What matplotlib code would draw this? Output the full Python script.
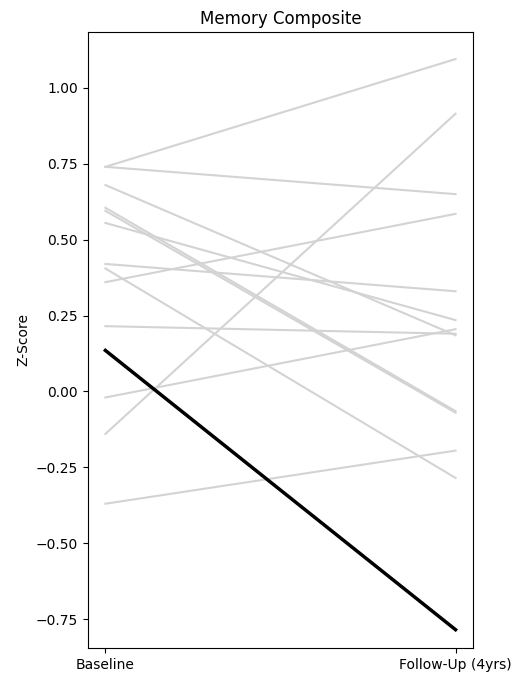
import matplotlib
matplotlib.use("Agg")
import matplotlib.pyplot as plt

timepoints = ["Baseline", "Follow-Up (4yrs)"]
baseline = [0.74, 0.74, 0.68, 0.605, 0.595, 0.555, 0.42, 0.405, 0.36, 0.215, -0.02, -0.14, -0.37]
followup = [1.095, 0.65, 0.185, -0.065, -0.07, 0.235, 0.33, -0.285, 0.585, 0.19, 0.205, 0.915, -0.195]
mean_base = 0.135
mean_follow = -0.785

fig = plt.figure(figsize=(5.17, 6.82), dpi=100)
ax = fig.add_axes([0.17, 0.05, 0.745, 0.903])
for b, f in zip(baseline, followup):
    ax.plot([0, 1], [b, f], color="lightgray", lw=1.5)
ax.plot([0, 1], [mean_base, mean_follow], color="black", lw=2.5)
ax.set_xticks([0, 1])
ax.set_xticklabels(timepoints)
ax.set_xlim(-0.05, 1.05)
ax.set_ylim(-0.845, 1.184)
ax.set_ylabel("Z-Score")
ax.set_title("Memory Composite")
fig.savefig("out.png", dpi=100)
